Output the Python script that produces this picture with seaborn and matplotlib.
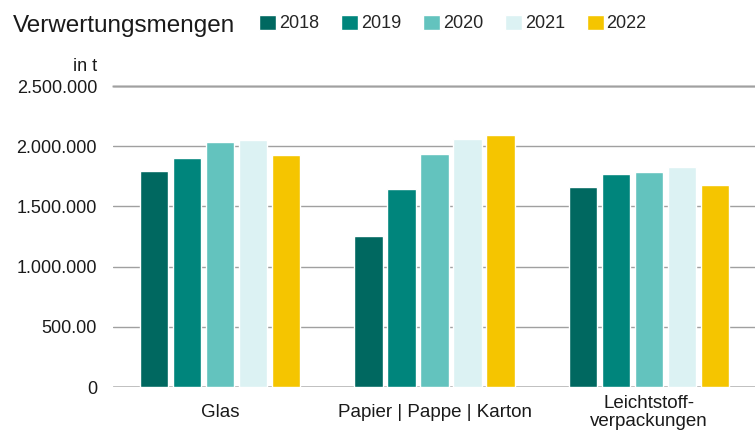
import pandas as pd
import matplotlib.pyplot as plt
import seaborn as sns

# ------------------------------------------
# Data (in t)
# ------------------------------------------
categories = ["Glas", "Papier | Pappe | Karton", "Leichtstoff-\nverpackungen"]
years = ["2018", "2019", "2020", "2021", "2022"]

glas = [1792000, 1900000, 2033000, 2050000, 1925000]
papier = [1253000, 1643000, 1934000, 2058000, 2094000]
lvp = [1660000, 1768000, 1784000, 1826000, 1676000]

colors = ["#006860", "#00857c", "#63c3be", "#dcf2f3", "#f5c500"]

y_ticks = [0, 500000, 1000000, 1500000, 2000000, 2500000]
y_ticklabels = ["0", "500.00", "1.000.000", "1.500.000", "2.000.000", "2.500.000"]

rows = []
for cat, vals in zip(categories, [glas, papier, lvp]):
    for yr, v in zip(years, vals):
        rows.append({"Kategorie": cat, "Jahr": yr, "Menge": v})
df = pd.DataFrame(rows)

# ------------------------------------------
# Plot
# ------------------------------------------
sns.set_style("white")
plt.rcParams["font.family"] = ["Liberation Sans", "DejaVu Sans"]
txt = "#1a1a1a"

fig = plt.figure(figsize=(7.55, 4.30), dpi=100)
ax = fig.add_axes([113 / 755, 1 - 387 / 430, 643 / 755, 301 / 430])

sns.barplot(
    data=df, x="Kategorie", y="Menge", hue="Jahr",
    palette=colors, width=0.77, gap=0.15, ax=ax,
    saturation=1, legend=True
)

ax.set_ylim(0, 2500000)
ax.set_yticks(y_ticks)
ax.set_yticklabels(y_ticklabels, fontsize=13, color=txt)
ax.tick_params(axis="y", length=0, pad=11.5)
ax.tick_params(axis="x", length=0, pad=18.5, labelsize=13.5, labelcolor=txt)
for lbl in ax.get_xticklabels():
    lbl.set_va("center")
    lbl.set_linespacing(1.1)
ax.set_xlabel("")
ax.set_ylabel("")
ax.set_axisbelow(True)
ax.yaxis.grid(True, color="#a0a0a0", linewidth=1)
for s in ax.spines.values():
    s.set_visible(False)
ax.axhline(0, color="#c4c4c4", linewidth=2, zorder=0.5)
ax.axhline(2500000, color="#c4c4c4", linewidth=2, zorder=0.5, clip_on=False)

handles, labels = ax.get_legend_handles_labels()
ax.get_legend().remove()
fig.legend(
    handles, labels, loc="center left", bbox_to_anchor=(259 / 755, 1 - 23.5 / 430),
    ncol=5, frameon=False, fontsize=13, handlelength=0.94, handleheight=0.9,
    handletextpad=0.17, columnspacing=1.2, borderaxespad=0, borderpad=0
)

fig.text(12.5 / 755, 1 - 32 / 430, "Verwertungsmengen", fontsize=17.5,
         va="baseline", ha="left", color=txt)
fig.text(97 / 755, 1 - 71 / 430, "in t", fontsize=13, va="baseline", ha="right",
         color=txt)

fig.savefig("out.png", dpi=100)
